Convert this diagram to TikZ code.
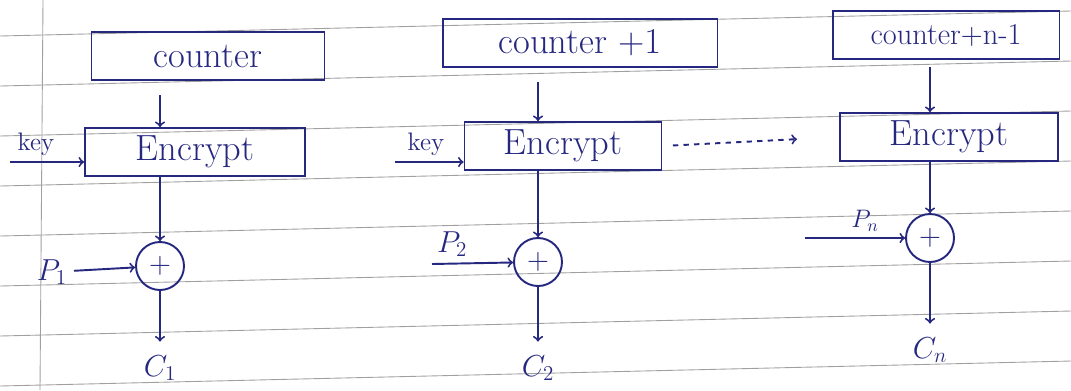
\documentclass[tikz,border=0pt]{standalone}
\usepackage{tikz}
\usetikzlibrary{arrows}
\definecolor{ink}{RGB}{38,40,128}
\definecolor{ruling}{RGB}{160,160,160}

\tikzset{
  blk/.style={draw, minimum height=0.96cm, inner sep=2pt, font=\huge},
  xorop/.style={circle, draw, minimum size=0.96cm, inner sep=0pt, font=\LARGE},
  lbl/.style={font=\LARGE},
}

\begin{document}
\begin{tikzpicture}[x=0.02cm, y=-0.02cm, ink, line width=1.1pt, >=to]
\useasboundingbox (0,0) rectangle (1071,390);

% ruled page
\foreach \y in {36,86,...,386} {
\draw [ruling, line width=0.5pt] (0,\y) -- (1071,\y-25);
}
\draw [ruling, line width=0.5pt] (43,0) -- (40,390);

% first block
\node [blk, minimum width=4.66cm] (ctr1) at (208,56) {counter};
\node [blk, minimum width=4.40cm] (enc1) at (195,152) {Encrypt};
\node [xorop] (xor1) at (160,266) {$+$};
\node [lbl] (p1) at (52,272) {$P_1$};
\node [lbl] (c1) at (160,368) {$C_1$};
\coordinate (key1) at (10,162);

% second block
\node [blk, minimum width=5.50cm] (ctr2) at (580,43) {counter $+1$};
\node [blk, minimum width=3.94cm] (enc2) at (563,146) {Encrypt};
\node [xorop] (xor2) at (538,262) {$+$};
\node [lbl] (c2) at (538,368) {$C_2$};
\coordinate (key2) at (395,162);
\coordinate (in2) at (432,264);

% last block
\node [blk, minimum width=4.54cm, font=\LARGE] (ctr3) at (946,35) {counter+n-1};
\node [blk, minimum width=4.36cm] (enc3) at (949,137) {Encrypt};
\node [xorop] (xor3) at (930,238) {$+$};
\node [lbl] (c3) at (930,350) {$C_n$};
\coordinate (in3) at (805,238);

% keys
\draw [->] (key1) -- (key1 -| enc1.west) node [pos=0.35, above, font=\Large] (k1) {key};
\draw [->] (key2) -- (key2 -| enc2.west) node [pos=0.45, above, font=\Large] (k2) {key};

% counter -> encrypt -> xor -> cipher
\draw [->, shorten <=8pt] (ctr1.south -| xor1) -- (enc1.north -| xor1);
\draw [->] (enc1.south -| xor1) -- (xor1);
\draw [->, shorten >=4pt] (xor1) -- (c1);
\draw [->] (p1) -- (xor1);

\draw [->, shorten <=8pt] (ctr2.south -| xor2) -- (enc2.north -| xor2);
\draw [->] (enc2.south -| xor2) -- (xor2);
\draw [->, shorten >=4pt] (xor2) -- (c2);
\draw [->] (in2) -- (xor2) node [pos=0.25, above, lbl] (p2) {$P_2$};

\draw [->, shorten <=4pt] (ctr3.south -| xor3) -- (enc3.north -| xor3);
\draw [->] (enc3.south -| xor3) -- (xor3);
\draw [->, shorten >=4pt] (xor3) -- (c3);
\draw [->] (in3) -- (xor3) node [pos=0.6, above, font=\Large] (pn) {$P_n$};

% the blocks in between
\draw [->, dashed, shorten <=6pt, shorten >=24pt] (enc2.east) -- (enc3.west);

\end{tikzpicture}
\end{document}
